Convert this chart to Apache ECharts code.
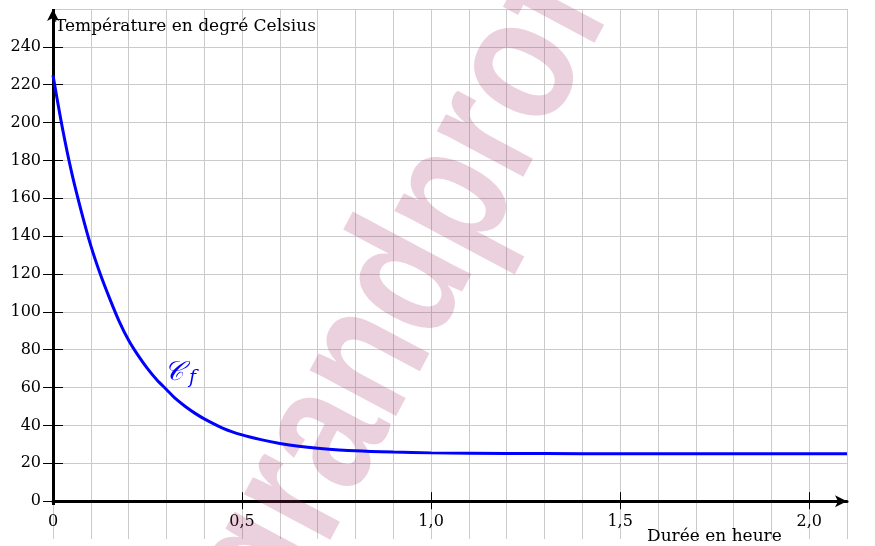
<!DOCTYPE html>
<html>
<head>
<meta charset="utf-8">
<script src="https://cdn.jsdelivr.net/npm/echarts@6/dist/echarts.min.js"></script>
<style>
html,body{margin:0;padding:0;background:#fff;}
#c{width:875px;height:546px;}
</style>
</head>
<body>
<div id="c"></div>
<script>
// Data
const timeHours = [0, 0.025, 0.05, 0.075, 0.1, 0.125, 0.15, 0.175, 0.2, 0.225, 0.25, 0.275, 0.3, 0.325, 0.35, 0.375, 0.4, 0.45, 0.5, 0.55, 0.6, 0.65, 0.7, 0.8, 0.9, 1.0, 1.2, 1.4, 1.7, 2.1];
const temperature = [225, 197, 173, 153, 135, 120, 107, 95, 85, 77, 70, 64, 59, 54, 50, 46.5, 43.5, 38.5, 35, 32.5, 30.5, 29, 28, 26.6, 25.9, 25.5, 25.2, 25.1, 25, 25];
const yTickValues = [0, 20, 40, 60, 80, 100, 120, 140, 160, 180, 200, 220, 240];
const xTickValues = [0.5, 1.0, 1.5, 2.0];
const xLabelValues = [0, 0.5, 1.0, 1.5, 2.0];
const xLabelTexts = ['0', '0,5', '1,0', '1,5', '2,0'];
const yAxisTitle = 'Température en degré Celsius';
const xAxisTitle = 'Durée en heure';
const curveName = ['\uD835\uDC9E', 'f'];
const watermark = 'grandprof';

const FONT = 'DejaVu Serif';
const GRID_C = '#cbcbcb';
const data = timeHours.map((t, i) => [t, temperature[i]]);

const chart = echarts.init(document.getElementById('c'), null, {renderer: 'canvas'});

// y split line colours: hide the one at -20 (bottom of grid)
const ySplitColors = [];
for (let v = -20; v <= 260; v += 20) ySplitColors.push(v === -20 ? 'rgba(0,0,0,0)' : GRID_C);

const ZERO_OFFSET = -37.8; // distance from grid bottom (-20) up to the value 0

chart.setOption({
  animation: false,
  backgroundColor: '#ffffff',
  grid: {left: 53, right: 28, top: 9, bottom: 7, containLabel: false, outerBoundsMode: 'none'},
  xAxis: [
    { // grid lines + axis line
      type: 'value', min: 0, max: 2.1, interval: 0.1,
      axisLine: {show: true, onZero: true, symbol: ['none', 'arrow'], symbolSize: [9, 12],
        lineStyle: {color: '#000', width: 3}},
      axisTick: {show: false}, axisLabel: {show: false},
      splitLine: {show: true, lineStyle: {color: GRID_C, width: 1}}
    },
    { // outward ticks + labels
      type: 'value', min: 0, max: 2.1, position: 'bottom', offset: ZERO_OFFSET,
      axisLine: {show: false, onZero: false},
      axisTick: {show: true, customValues: xTickValues, length: 8, inside: false, lineStyle: {color: '#000', width: 1}},
      axisLabel: {show: true, customValues: xLabelValues, margin: 13,
        fontFamily: FONT, fontSize: 16, color: '#000',
        formatter: v => { const i = xLabelValues.findIndex(x => Math.abs(x - v) < 1e-6); return i >= 0 ? xLabelTexts[i] : ''; }},
      splitLine: {show: false}
    },
    { // inward ticks
      type: 'value', min: 0, max: 2.1, position: 'bottom', offset: ZERO_OFFSET,
      axisLine: {show: false, onZero: false},
      axisTick: {show: true, customValues: xTickValues, length: 9, inside: true, lineStyle: {color: '#000', width: 1}},
      axisLabel: {show: false}, splitLine: {show: false}
    }
  ],
  yAxis: [
    { // grid lines
      type: 'value', min: -20, max: 260, interval: 20,
      axisLine: {show: false}, axisTick: {show: false}, axisLabel: {show: false},
      splitLine: {show: true, lineStyle: {color: ySplitColors, width: 1}}
    },
    { // outward ticks + labels
      type: 'value', min: -20, max: 260, position: 'left',
      axisLine: {show: false, onZero: false},
      axisTick: {show: true, customValues: yTickValues, length: 10, inside: false, lineStyle: {color: '#000', width: 1}},
      axisLabel: {show: true, customValues: yTickValues, margin: 12, fontFamily: FONT, fontSize: 16, color: '#000'},
      splitLine: {show: false}
    },
    { // inward ticks
      type: 'value', min: -20, max: 260, position: 'left',
      axisLine: {show: false, onZero: false},
      axisTick: {show: true, customValues: yTickValues, length: 10, inside: true, lineStyle: {color: '#000', width: 1}},
      axisLabel: {show: false}, splitLine: {show: false}
    }
  ],
  graphic: [
    {
      type: 'text', x: 402, y: 296, rotation: 62 * Math.PI / 180, scaleX: 0.8, z: 1, silent: true,
      style: {text: watermark, fontFamily: 'Liberation Sans', fontWeight: 'bold', fontSize: 185, fill: 'rgba(165,40,100,0.22)',
        align: 'center', verticalAlign: 'middle'}
    },
    {
      type: 'text', left: 55, top: 18, z: 10,
      style: {text: yAxisTitle, fontFamily: FONT, fontSize: 17, fill: '#000'}
    },
    {
      type: 'text', left: 647, top: 528, z: 10,
      style: {text: xAxisTitle, fontFamily: FONT, fontSize: 17, fill: '#000'}
    },
    {
      type: 'text', left: 164, top: 359, z: 10,
      style: {
        text: '{c|' + curveName[0] + '}{f|' + curveName[1] + '}',
        rich: {
          c: {fontFamily: 'DejaVu Serif', fontStyle: 'italic', fontSize: 27, fill: '#0000ff'},
          f: {fontFamily: FONT, fontStyle: 'italic', fontSize: 19, fill: '#0000ff', padding: [12, 0, 0, 5]}
        }
      }
    }
  ],
  series: [
    {
      type: 'line', xAxisIndex: 0, yAxisIndex: 0, data: data, smooth: 0.3, showSymbol: false,
      lineStyle: {color: '#0000ff', width: 3}, z: 5, clip: false,
      markLine: {
        silent: true, symbol: ['none', 'arrow'], symbolSize: [9, 12],
        label: {show: false},
        lineStyle: {color: '#000', width: 3, type: 'solid'},
        data: [[{coord: [0, -2]}, {coord: [0, 260]}]]
      }
    }
  ]
});
</script>
</body>
</html>
